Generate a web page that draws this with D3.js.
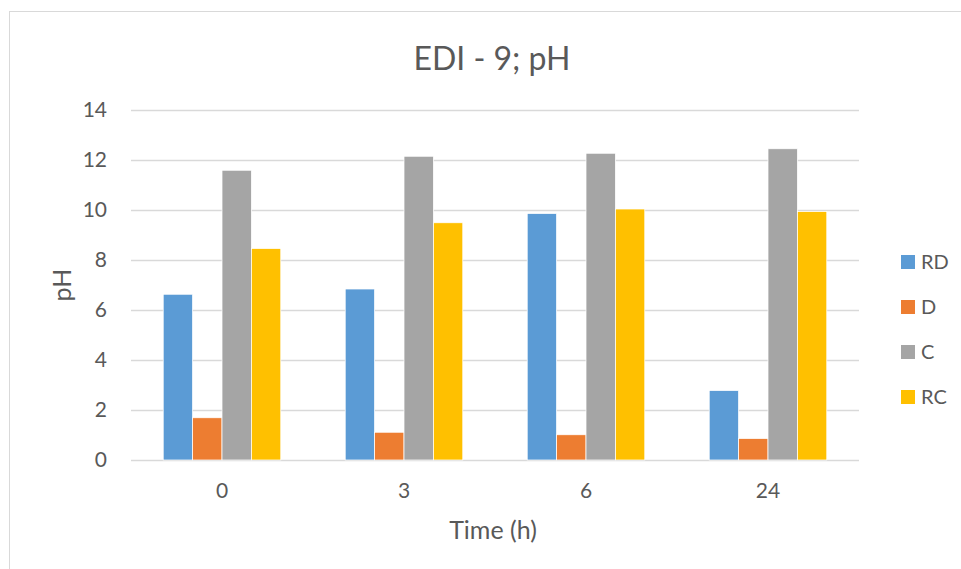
<!DOCTYPE html>
<html>
  <head>
	<meta charset="utf-8">
    <title>EDI - 9; pH</title>
    <script src="https://cdnjs.cloudflare.com/ajax/libs/d3/7.8.5/d3.min.js"></script>
  	<style>
		body{
			margin:0;
			background:#fff;
		}
		svg{
			display:block;
			font-family: Lato, "Open Sans", sans-serif;
		}
		.tick line{
			stroke:#d9d9d9;
		}
		.domain{
			display:none;
		}
	</style>
  </head>
  <body>
    <div id="diagram"></div>
    <script>
		// data
		var times = ["0", "3", "6", "24"];
		var seriesNames = ["RD", "D", "C", "RC"];
		var RD = [6.63, 6.84, 9.86, 2.78];
		var D = [1.69, 1.11, 1.01, 0.86];
		var C = [11.59, 12.15, 12.27, 12.45];
		var RC = [8.46, 9.49, 10.04, 9.94];
		var yTicks = [0, 2, 4, 6, 8, 10, 12, 14];

		var colors = ["#5b9bd5", "#ed7d31", "#a5a5a5", "#ffc000"];
		var series = [RD, D, C, RC];

		var W = 961, H = 569;
		var margin = {top: 110, right: 102, bottom: 109, left: 131};
		var width = W - margin.left - margin.right;
		var height = H - margin.top - margin.bottom;

		var svg = d3.select("#diagram").append("svg")
					.attr("width", W)
					.attr("height", H);

		//chart border
		svg.append("rect")
			.attr("x", 9.5).attr("y", 11.5)
			.attr("width", 980).attr("height", 600)
			.attr("fill", "none")
			.attr("stroke", "#d9d9d9");

		var g = svg.append("g")
			.attr("transform", "translate(" + margin.left + "," + margin.top + ")");

		var yScale = d3.scaleLinear().domain([0, 14]).range([height, 0]);
		var xScale = d3.scaleBand().domain(times).range([0, width]).paddingInner(0.354).paddingOuter(0.177);
		var xSub = d3.scaleBand().domain(seriesNames).range([0, xScale.bandwidth()]);

		//grid + y labels
		var yAxis = d3.axisLeft(yScale).tickValues(yTicks).tickSize(-width).tickPadding(24);
		var yAxisGroup = g.append("g").call(yAxis);
		yAxisGroup.selectAll(".tick line").attr("stroke-width", 1.5);

		//bars
		seriesNames.forEach(function(name, i){
			g.append("g").selectAll("rect")
				.data(series[i])
				.enter().append("rect")
				.attr("x", function(d, j){ return xScale(times[j]) + xSub(name); })
				.attr("y", function(d){ return yScale(d); })
				.attr("width", xSub.bandwidth())
				.attr("height", function(d){ return height - yScale(d); })
				.attr("fill", colors[i])
				.attr("stroke", "#fff")
				.attr("stroke-width", 0.75);
		});

		//x labels
		var xAxis = d3.axisBottom(d3.scaleBand().domain(times).range([0, width])).tickSize(0).tickPadding(23);
		var xAxisGroup = g.append("g").attr("transform", "translate(0," + height + ")").call(xAxis);

		svg.selectAll(".tick text")
			.style("font-family", "Lato, sans-serif")
			.style("font-size", "21px")
			.attr("fill", "#595959");

		//titles
		svg.append("text").text("EDI - 9; pH")
			.attr("x", 492).attr("y", 59)
			.attr("dy", "0.35em")
			.attr("text-anchor", "middle")
			.attr("fill", "#595959")
			.style("font-size", "32px");
		svg.append("text").text("Time (h)")
			.attr("x", 493).attr("y", 530)
			.attr("dy", "0.35em")
			.attr("text-anchor", "middle")
			.attr("fill", "#595959")
			.style("font-size", "25px");
		svg.append("text").text("pH")
			.attr("transform", "translate(62,285) rotate(-90)")
			.attr("dy", "0.35em")
			.attr("text-anchor", "middle")
			.attr("fill", "#595959")
			.style("font-size", "25px");

		//legend
		var legend = svg.append("g").selectAll("g")
			.data(seriesNames)
			.enter().append("g")
			.attr("transform", function(d, i){ return "translate(901," + (262 + i * 45) + ")"; });
		legend.append("rect")
			.attr("x", 0).attr("y", -7)
			.attr("width", 14).attr("height", 14)
			.attr("fill", function(d, i){ return colors[i]; });
		legend.append("text").text(function(d){ return d; })
			.attr("x", 20).attr("dy", "0.35em")
			.attr("fill", "#595959")
			.style("font-size", "20px");
	</script>
  </body>
</html>
